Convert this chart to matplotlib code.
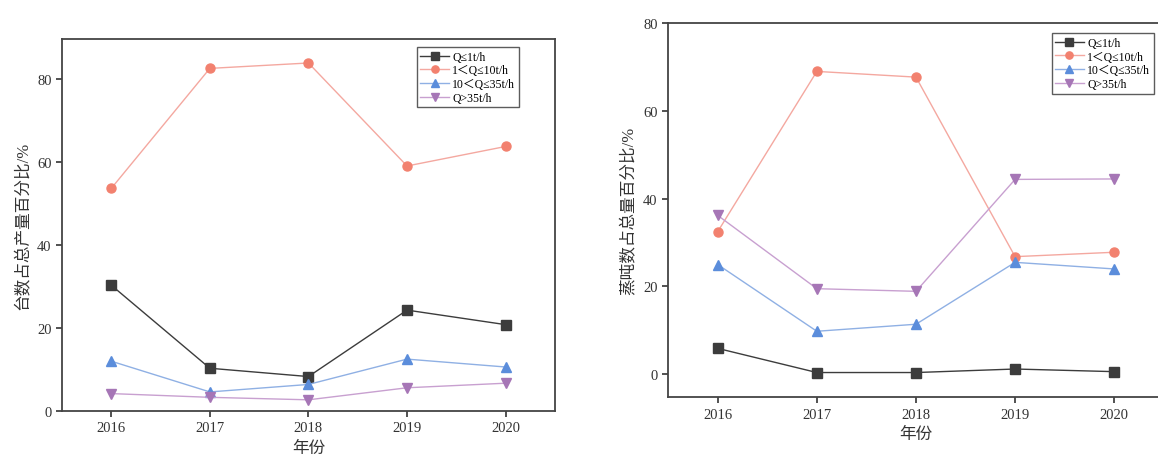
""" plot.py """

import numpy as np
import matplotlib
matplotlib.use("Agg")
import matplotlib.pyplot as plt

plt.rcParams['font.family'] = ['Liberation Serif', 'Noto Sans CJK SC']

# data
years = [2016, 2017, 2018, 2019, 2020]
labels = ["Q≤1t/h", "1＜Q≤10t/h", "10＜Q≤35t/h", "Q>35t/h"]

# left: share of unit count (%)
count_q1 = [30.3, 10.3, 8.3, 24.3, 20.8]
count_q10 = [53.6, 82.5, 83.8, 59.0, 63.7]
count_q35 = [12.0, 4.6, 6.4, 12.5, 10.6]
count_qbig = [4.2, 3.3, 2.7, 5.6, 6.7]

# right: share of steam tonnage (%)
ton_q1 = [5.9, 0.4, 0.4, 1.2, 0.6]
ton_q10 = [32.5, 69.0, 67.7, 26.8, 27.8]
ton_q35 = [25.0, 9.8, 11.4, 25.5, 24.0]
ton_qbig = [36.2, 19.5, 18.9, 44.4, 44.5]

colors = ['#3c3c3c', '#f2816f', '#5b8ddb', '#a676b6']
line_colors = ['#3c3c3c', '#f4a8a0', '#8fb0e4', '#c8a0d0']
markers = ['s', 'o', '^', 'v']


def draw_panel(ax, series, ylabel, ylim, legend_x, legend_y):
    """Draws one panel of four lines."""
    for vals, lab, c, lc, m in zip(series, labels, colors, line_colors, markers):
        ax.plot(years, vals, color=lc, lw=1.0, marker=m, markersize=6.5,
                markerfacecolor=c, markeredgecolor=c, label=lab)
    ax.set_xlim(2015.5, 2020.5)
    ax.set_ylim(*ylim)
    ax.set_xticks(years)
    ax.set_yticks([0, 20, 40, 60, 80])
    ax.tick_params(direction='out', length=4, width=1.2, labelsize=10.5,
                   colors='#333333')
    for s in ax.spines.values():
        s.set_linewidth(1.3)
        s.set_color('#444444')
    ax.set_xlabel("年份", fontsize=12, color='#333333')
    ax.set_ylabel(ylabel, fontsize=12, color='#333333')
    leg = ax.legend(loc='upper left', bbox_to_anchor=(legend_x, legend_y),
                    fontsize=8.5, frameon=True, fancybox=False, handlelength=2.4,
                    borderpad=0.3, labelspacing=0.15, handletextpad=0.3,
                    markerscale=0.8, borderaxespad=0)
    leg.get_frame().set_edgecolor('#333333')
    leg.get_frame().set_linewidth(1.0)


fig = plt.figure(figsize=(11.58, 4.64), dpi=100)

ax1 = fig.add_axes([0.0535, 0.112, 0.4257, 0.802])
draw_panel(ax1, [count_q1, count_q10, count_q35, count_qbig],
           "台数占总产量百分比/%", (0, 89.6), 0.72, 0.978)

ax2 = fig.add_axes([0.577, 0.142, 0.428, 0.806])
draw_panel(ax2, [ton_q1, ton_q10, ton_q35, ton_qbig],
           "蒸吨数占总量百分比/%", (-5.2, 80), 0.774, 0.973)

fig.savefig("out.png", dpi=100)
